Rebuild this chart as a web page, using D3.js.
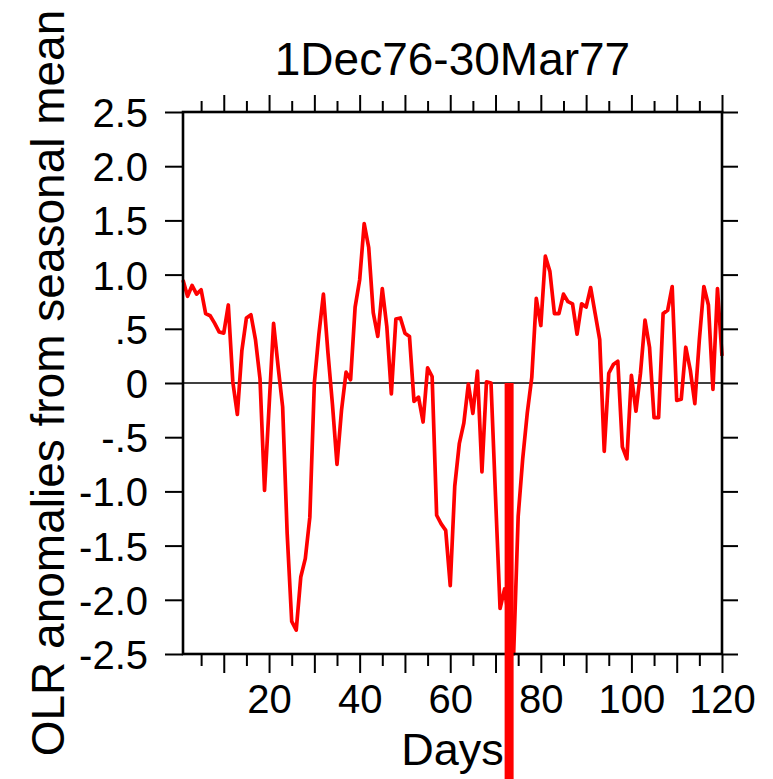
<!DOCTYPE html>
<html>
<head>
<meta charset="utf-8">
<script src="https://cdn.jsdelivr.net/npm/d3@7"></script>
<style>
  html, body { margin: 0; padding: 0; background: #fff; }
  svg { display: block; font-family: "Liberation Sans", Arial, Helvetica, sans-serif; }
</style>
</head>
<body>
<div id="chart"></div>
<script>
var W = 773, H = 779;
var margin = {top: 112, right: 51, bottom: 125, left: 183};

var title = "1Dec76-30Mar77";
var xTitle = "Days";
var yTitle = "OLR anomalies from seasonal mean";

// daily OLR anomalies, day 1 .. 120
var days = d3.range(1, 121);
var olr = [
  0.95, 0.80, 0.90, 0.82, 0.86, 0.64, 0.62, 0.55, 0.47, 0.46,
  0.72, 0.01, -0.29, 0.30, 0.60, 0.63, 0.40, 0.04, -0.99, -0.22,
  0.55, 0.15, -0.22, -1.39, -2.20, -2.28, -1.79, -1.62, -1.24, 0.00,
  0.45, 0.82, 0.28, -0.20, -0.75, -0.25, 0.10, 0.03, 0.70, 0.95,
  1.47, 1.25, 0.65, 0.43, 0.87, 0.52, -0.10, 0.59, 0.60, 0.46,
  0.43, -0.17, -0.13, -0.36, 0.14, 0.06, -1.22, -1.30, -1.36, -1.87,
  -0.95, -0.56, -0.37, -0.01, -0.28, 0.11, -0.82, 0.01, 0.00, -1.05,
  -2.08, -1.90, -2.20, -2.50, -1.23, -0.70, -0.28, 0.05, 0.78, 0.53,
  1.17, 1.03, 0.64, 0.64, 0.82, 0.75, 0.73, 0.45, 0.73, 0.70,
  0.88, 0.64, 0.40, -0.63, 0.09, 0.17, 0.20, -0.59, -0.70, 0.07,
  -0.26, 0.09, 0.58, 0.33, -0.32, -0.32, 0.64, 0.67, 0.89, -0.16,
  -0.15, 0.33, 0.12, -0.19, 0.40, 0.89, 0.72, -0.06, 0.87, 0.25
];

var yTicks = [2.5, 2.0, 1.5, 1.0, 0.5, 0, -0.5, -1.0, -1.5, -2.0, -2.5];
var yTickLabels = ["2.5", "2.0", "1.5", "1.0", ".5", "0", "-.5", "-1.0", "-1.5", "-2.0", "-2.5"];
var xMajor = d3.range(10, 121, 10);
var xMinor = d3.range(5, 120, 10);
var xLabelTicks = [20, 40, 60, 80, 100, 120];

// marker bar (day, from value, to value)
var markDay = [73];
var markFrom = [0];
var markTo = [-3.7];

var iw = W - margin.left - margin.right;
var ih = H - margin.top - margin.bottom;

var x = d3.scaleLinear().domain([1, 120]).range([0, iw]);
var y = d3.scaleLinear().domain([-2.5, 2.5]).range([ih, 0]);

var svg = d3.select("#chart").append("svg")
  .attr("width", W).attr("height", H);
svg.append("rect").attr("width", W).attr("height", H).attr("fill", "#fff");

var g = svg.append("g").attr("transform", "translate(" + margin.left + "," + margin.top + ")");

// zero line
g.append("line")
  .attr("x1", 0).attr("x2", iw)
  .attr("y1", y(0)).attr("y2", y(0))
  .attr("stroke", "#000").attr("stroke-width", 1.4);

// the series
var line = d3.line()
  .x(function (d, i) { return x(days[i]); })
  .y(function (d) { return y(d); });

g.append("path")
  .datum(olr)
  .attr("fill", "none")
  .attr("stroke", "#ff0000")
  .attr("stroke-width", 3.7)
  .attr("stroke-linejoin", "round")
  .attr("d", line);

// axes: NCL style, ticks pointing out
function styleAxis(sel) {
  sel.select(".domain").remove();
  sel.selectAll(".tick line").attr("stroke", "#000").attr("stroke-width", 2);
  sel.selectAll(".tick text")
    .attr("fill", "#000")
    .style("font-size", "40px")
    .style("font-family", "'Liberation Sans', Arial, sans-serif");
}

var yLeft = d3.axisLeft(y).tickValues(yTicks).tickSize(18).tickPadding(17)
  .tickFormat(function (d, i) { return yTickLabels[i]; });
g.append("g").call(yLeft).call(styleAxis)
  .selectAll(".tick text").attr("dy", "0.36em");

var yRight = d3.axisRight(y).tickValues(yTicks).tickSize(16).tickFormat("");
g.append("g").attr("transform", "translate(" + iw + ",0)").call(yRight).call(styleAxis);

var xBotMinor = d3.axisBottom(x).tickValues(xMinor).tickSize(12).tickFormat("");
g.append("g").attr("transform", "translate(0," + ih + ")").call(xBotMinor).call(styleAxis);
var xBotMajor = d3.axisBottom(x).tickValues(xMajor).tickSize(19).tickPadding(12)
  .tickFormat(function (d) { return xLabelTicks.indexOf(d) >= 0 ? d : ""; });
g.append("g").attr("transform", "translate(0," + ih + ")").call(xBotMajor).call(styleAxis);

var xTopMinor = d3.axisTop(x).tickValues(xMinor).tickSize(11).tickFormat("");
g.append("g").call(xTopMinor).call(styleAxis);
var xTopMajor = d3.axisTop(x).tickValues(xMajor).tickSize(17).tickFormat("");
g.append("g").call(xTopMajor).call(styleAxis);

// frame
g.append("rect")
  .attr("x", 0).attr("y", 0).attr("width", iw).attr("height", ih)
  .attr("fill", "none").attr("stroke", "#000").attr("stroke-width", 2.6);

// titles
svg.append("text")
  .attr("x", margin.left + iw / 2).attr("y", 75)
  .attr("text-anchor", "middle")
  .style("font-size", "46px")
  .text(title);

svg.append("text")
  .attr("x", margin.left + iw / 2).attr("y", 765)
  .attr("text-anchor", "middle")
  .style("font-size", "45px")
  .text(xTitle);

svg.append("text")
  .attr("transform", "translate(64," + (margin.top + ih / 2) + ") rotate(-90)")
  .attr("text-anchor", "middle")
  .style("font-size", "46px")
  .text(yTitle);

// red marker bar on top
g.selectAll(".mark")
  .data(markDay)
  .enter().append("line")
  .attr("class", "mark")
  .attr("x1", function (d) { return x(d); })
  .attr("x2", function (d) { return x(d); })
  .attr("y1", function (d, i) { return y(markFrom[i]); })
  .attr("y2", function (d, i) { return y(markTo[i]); })
  .attr("stroke", "#ff0000")
  .attr("stroke-width", 9);
</script>
</body>
</html>
